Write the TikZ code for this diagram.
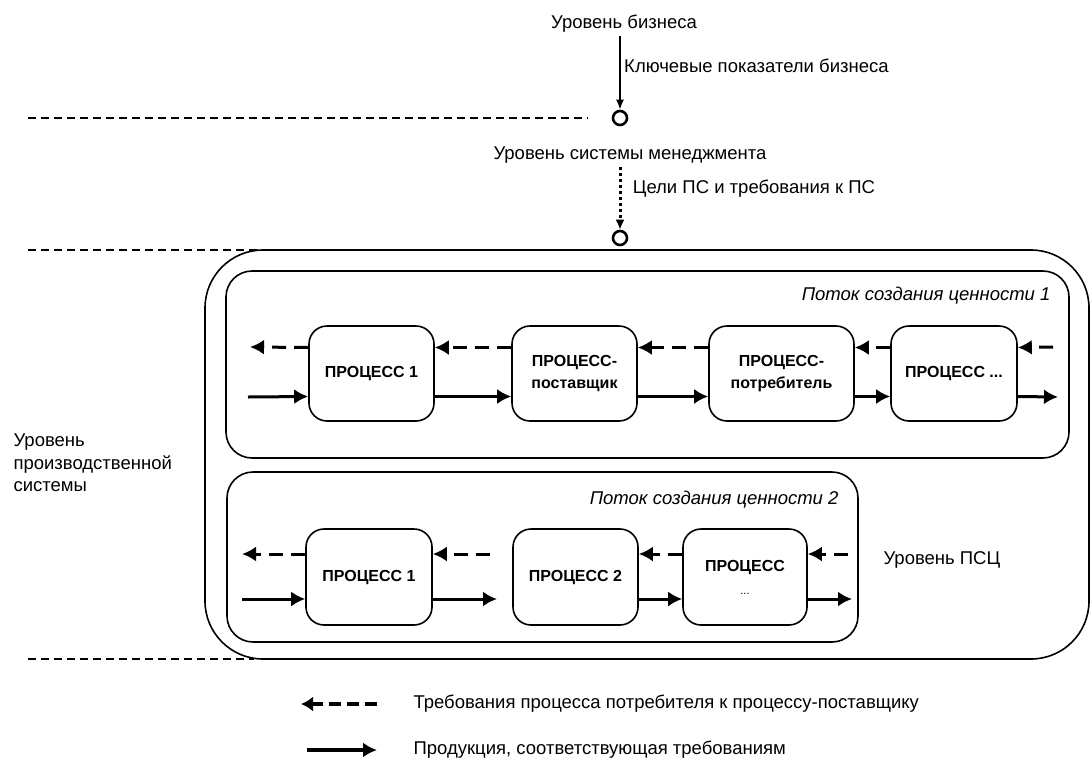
\documentclass[tikz,border=0pt]{standalone}
\usepackage{fontspec}
\setmainfont{Liberation Sans}
\usetikzlibrary{calc,arrows,arrows.meta,positioning,shapes}

\begin{document}
\begin{tikzpicture}[x=1pt,y=-1pt,
    proc/.style={draw,line width=1.6pt,rounded corners=18pt,minimum height=95pt,
      align=center,font=\fontsize{16}{22}\selectfont\bfseries},
    prod/.style={draw,-{Latex[length=14pt,width=15pt]},line width=3pt},
    req/.style={draw,-{Latex[length=14pt,width=15pt]},line width=3pt,dash pattern=on 14pt off 8pt},
    level/.style={line width=1.3pt,dash pattern=on 8pt off 5pt},
    frame/.style={draw,line width=1.6pt},
    lbl/.style={font=\fontsize{18.5}{22.5}\selectfont},
    port/.style={circle,draw,line width=2.6pt,inner sep=0pt,minimum size=14pt}]
  \useasboundingbox (0,0) rectangle (1092,758);

  % levels
  \node[lbl] (biz) at (624,24) {Уровень бизнеса};
  \node[port] (c1) at (620,118) {};
  \node[lbl] (mgmt) at (630,155) {Уровень системы менеджмента};
  \node[port] (c2) at (620,238) {};
  \path (biz.south -| c1) edge[draw,-{Latex[length=10pt,width=8pt]},line width=1.8pt]
    node[lbl,right,pos=0.4] {Ключевые показатели бизнеса} (c1);
  \path (mgmt.south -| c2) edge[draw,-{Latex[length=10pt,width=9pt]},line width=3pt,dash pattern=on 3pt off 3pt]
    node[lbl,right,xshift=8pt,pos=0.35] {Цели ПС и требования к ПС} (c2);
  \draw[level] (28,118) -- (588,118);
  \draw[level] (28,250) -- (258,250);
  \draw[level] (28,659) -- (254,659);

  % production system
  \draw[frame,rounded corners=58pt] (205,250) rectangle (1089,659);
  \node[lbl,align=left,anchor=west] (pslev) at (10,463) {Уровень\\производственной\\системы};
  \node[lbl,anchor=west] (vslev) at (880,560) {Уровень ПСЦ};

  % value stream 1
  \draw[frame,rounded corners=26pt] (226,271) rectangle (1069,458);
  \node[lbl,font=\fontsize{18.5}{22.5}\selectfont\itshape,anchor=east] (vs1) at (1054,296) {Поток создания ценности 1};
  \node[proc,minimum width=125pt] (p11) at (371.5,373.5) {ПРОЦЕСС 1};
  \node[proc,minimum width=125pt] (p12) at (574.5,373.5) {ПРОЦЕСС-\\поставщик};
  \node[proc,minimum width=145pt] (p13) at (781.5,373.5) {ПРОЦЕСС-\\потребитель};
  \node[proc,minimum width=126pt] (p14) at (954,373.5) {ПРОЦЕСС ...};
  \coordinate (r1in) at (248,397);
  \coordinate (r1rq) at (250,347);
  \coordinate (r1out) at (1058,397);
  \coordinate (r1src) at (1053,347);
  \path
    (r1in) edge[prod] ([yshift=-23pt]p11.west)
    ([yshift=-23pt]p11.east) edge[prod] ([yshift=-23pt]p12.west)
    ([yshift=-23pt]p12.east) edge[prod] ([yshift=-23pt]p13.west)
    ([yshift=-23pt]p13.east) edge[prod] ([yshift=-23pt]p14.west)
    ([yshift=-23pt]p14.east) edge[prod] (r1out);
  \path
    (r1src) edge[req] ([yshift=26pt]p14.east)
    ([yshift=26pt]p14.west) edge[req] ([yshift=26pt]p13.east)
    ([yshift=26pt]p13.west) edge[req] ([yshift=26pt]p12.east)
    ([yshift=26pt]p12.west) edge[req] ([yshift=26pt]p11.east)
    ([yshift=26pt]p11.west) edge[req] (r1rq);

  % value stream 2
  \draw[frame,rounded corners=26pt] (227,472) rectangle (858,642);
  \node[lbl,font=\fontsize{18.5}{22.5}\selectfont\itshape,anchor=east] (vs2) at (842,500) {Поток создания ценности 2};
  \node[proc,minimum width=126pt,minimum height=96pt] (p21) at (369,577) {ПРОЦЕСС 1};
  \node[proc,minimum width=125pt,minimum height=96pt] (p22) at (575.5,577) {ПРОЦЕСС 2};
  \node[proc,minimum width=124pt,minimum height=96pt] (p23) at (745,577)
    {ПРОЦЕСС\\[1pt]{\mdseries\fontsize{11}{13}\selectfont ...}};
  \coordinate (r2in) at (242,599);
  \coordinate (r2rq) at (242,554);
  \coordinate (r2mid) at (497,599);
  \coordinate (r2mrq) at (490,554);
  \coordinate (r2out) at (852,599);
  \coordinate (r2src) at (848,554);
  \path
    (r2in) edge[prod] ([yshift=-22pt]p21.west)
    ([yshift=-22pt]p21.east) edge[prod] (r2mid)
    ([yshift=-22pt]p22.east) edge[prod] ([yshift=-22pt]p23.west)
    ([yshift=-22pt]p23.east) edge[prod] (r2out);
  \path
    (r2src) edge[req] ([yshift=23pt]p23.east)
    ([yshift=23pt]p23.west) edge[req] ([yshift=23pt]p22.east)
    (r2mrq) edge[req] ([yshift=23pt]p21.east)
    ([yshift=23pt]p21.west) edge[req] (r2rq);

  % legend
  \node[lbl,anchor=west] (lgreq) at (410,704) {Требования процесса потребителя к процессу-поставщику};
  \node[lbl,anchor=west] (lgprod) at (410,750) {Продукция, соответствующая требованиям};
  \coordinate (lq1) at (377,704);
  \coordinate (lq2) at (301,704);
  \coordinate (lp1) at (307,750);
  \coordinate (lp2) at (377,750);
  \draw[-{Latex[length=12pt,width=15pt]},line width=4pt,dash pattern=on 12pt off 6pt] (lq1) -- (lq2);
  \draw[-{Latex[length=14pt,width=15pt]},line width=4pt] (lp1) -- (lp2);
\end{tikzpicture}
\end{document}
